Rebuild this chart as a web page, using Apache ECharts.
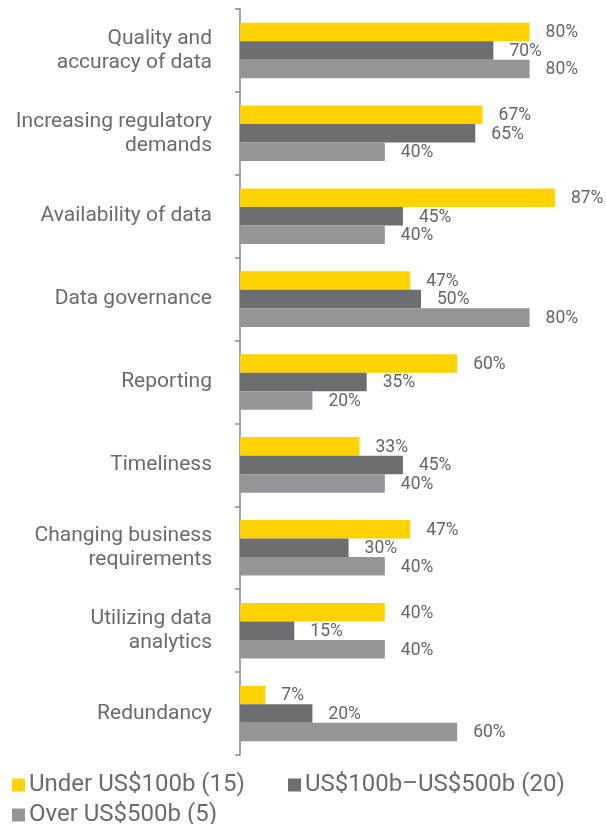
<!DOCTYPE html>
<html>
<head>
<meta charset="utf-8">
<script src="https://cdn.jsdelivr.net/npm/echarts@6/dist/echarts.min.js"></script>
<style>
  html, body { margin: 0; padding: 0; background: #fff; }
  #chart { width: 606px; height: 824px; }
</style>
</head>
<body>
<div id="chart"></div>
<script>
// categories, top to bottom
var categories = [
  'Quality and\naccuracy of data',
  'Increasing regulatory\ndemands',
  'Availability of data',
  'Data governance',
  'Reporting',
  'Timeliness',
  'Changing business\nrequirements',
  'Utilizing data\nanalytics',
  'Redundancy'
];
var seriesNames = ['Under US$100b (15)', 'US$100b\u2013US$500b (20)', 'Over US$500b (5)'];
var under100 = [80, 67, 87, 47, 60, 33, 47, 40, 7];
var mid100to500 = [70, 65, 45, 50, 35, 45, 30, 15, 20];
var over500 = [80, 40, 40, 80, 20, 40, 40, 40, 60];
var colors = ['#FFD200', '#6D6E71', '#939598'];

var myChart = echarts.init(document.getElementById('chart'));

function makeSeries(name, data, color) {
  return {
    name: name,
    type: 'bar',
    data: data,
    barGap: '0%',
    barCategoryGap: '33%',
    itemStyle: { color: color },
    label: {
      show: true,
      position: 'right',
      distance: 16,
      offset: [0, 1],
      formatter: '{c}%',
      color: '#666666',
      fontSize: 17.5,
      fontFamily: 'Roboto'
    }
  };
}

function makeLegend(name, left, top) {
  return {
    left: left,
    top: top,
    padding: 0,
    itemWidth: 13,
    itemHeight: 13,
    icon: 'rect',
    textStyle: { color: '#6b6b6b', fontSize: 24, lineHeight: 26, fontFamily: 'Roboto', padding: [0, 0, 0, -1] },
    data: [name]
  };
}

var option = {
  animation: false,
  grid: { left: 240, right: 4, top: 9, bottom: 69 },
  xAxis: {
    type: 'value',
    min: 0,
    max: 100,
    show: false
  },
  yAxis: {
    type: 'category',
    inverse: true,
    data: categories,
    axisLine: { lineStyle: { color: '#8a8a8a', width: 1.5 } },
    axisTick: { show: true, length: 5, lineStyle: { color: '#8a8a8a', width: 1.5 } },
    axisLabel: {
      color: '#6b6b6b',
      fontSize: 21,
      fontFamily: 'Roboto',
      lineHeight: 24,
      margin: 28,
      align: 'right'
    }
  },
  legend: [
    makeLegend(seriesNames[0], 12, 772),
    makeLegend(seriesNames[1], 288, 772),
    makeLegend(seriesNames[2], 12, 802)
  ],
  series: [
    makeSeries(seriesNames[0], under100, colors[0]),
    makeSeries(seriesNames[1], mid100to500, colors[1]),
    makeSeries(seriesNames[2], over500, colors[2])
  ]
};

myChart.setOption(option);
</script>
</body>
</html>
